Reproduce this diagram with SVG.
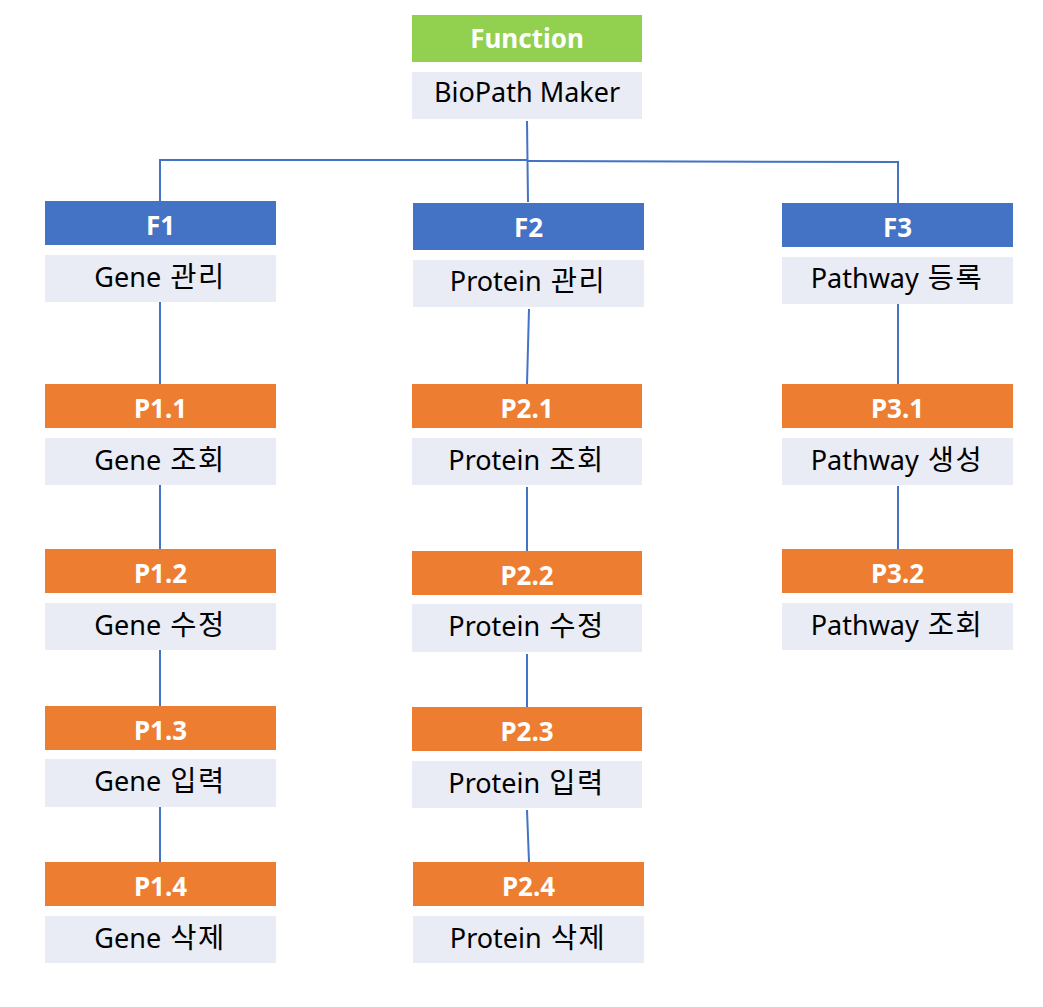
<svg xmlns="http://www.w3.org/2000/svg" width="1043" height="1007" viewBox="0 0 1043 1007">
<style>
.hd{fill:#4472C4}
.pr{fill:#ED7D31}
.fn{fill:#92D050}
.lb{fill:#E9EBF5}
.ht{font-family:"Noto Sans","Noto Sans CJK KR",sans-serif;font-weight:bold;font-size:26px;fill:#ffffff;text-anchor:middle}
.lt{font-family:"Noto Sans","Noto Sans CJK KR",sans-serif;font-size:27px;fill:#000000;text-anchor:middle}
.k{font-size:28.5px;letter-spacing:1.5px}
#connectors path{fill:none;stroke:#4472C4;stroke-width:2}
</style>
<rect width="1043" height="1007" fill="#ffffff"/>
<g id="connectors">
<path d="M527,121 L528,202"/>
<path d="M160,201 L160,160 L527,160"/>
<path d="M527,161 L898,162 L898,203"/>
<path d="M160,302 L160,384"/>
<path d="M160,485 L160,549"/>
<path d="M160,650 L160,706"/>
<path d="M160,807 L160,862"/>
<path d="M529,309 L527,384"/>
<path d="M527,487 L527,551"/>
<path d="M527,654 L527,707"/>
<path d="M527,810 L529,862"/>
<path d="M898,304 L898,384"/>
<path d="M898,486 L898,549"/>
</g>
<g id="root">
<rect class="fn" x="412" y="15" width="230" height="47"/>
<text class="ht" x="527" y="48">Function</text>
<rect class="lb" x="412" y="72" width="230" height="47"/>
<text class="lt" x="527" y="102">BioPath Maker</text>
</g>
<g id="F1">
<rect class="hd" x="45" y="201" width="231" height="44"/>
<text class="ht" x="160.5" y="235">F1</text>
<rect class="lb" x="45" y="255" width="231" height="47"/>
<text class="lt" x="160" y="287">Gene <tspan class="k" dx="2">관리</tspan></text>
</g>
<g id="F2">
<rect class="hd" x="413" y="203" width="231" height="47"/>
<text class="ht" x="528.5" y="237">F2</text>
<rect class="lb" x="413" y="260" width="231" height="47"/>
<text class="lt" x="528" y="291">Protein <tspan class="k" dx="2">관리</tspan></text>
</g>
<g id="F3">
<rect class="hd" x="782" y="203" width="231" height="44"/>
<text class="ht" x="897.5" y="237">F3</text>
<rect class="lb" x="782" y="257" width="231" height="47"/>
<text class="lt" x="897" y="288">Pathway <tspan class="k" dx="2">등록</tspan></text>
</g>
<g id="P1.1">
<rect class="pr" x="45" y="384" width="231" height="44"/>
<text class="ht" x="160.5" y="418">P1.1</text>
<rect class="lb" x="45" y="438" width="231" height="47"/>
<text class="lt" x="160" y="470">Gene <tspan class="k" dx="2">조회</tspan></text>
</g>
<g id="P1.2">
<rect class="pr" x="45" y="549" width="231" height="44"/>
<text class="ht" x="160.5" y="583">P1.2</text>
<rect class="lb" x="45" y="603" width="231" height="47"/>
<text class="lt" x="160" y="635">Gene <tspan class="k" dx="2">수정</tspan></text>
</g>
<g id="P1.3">
<rect class="pr" x="45" y="706" width="231" height="44"/>
<text class="ht" x="160.5" y="740">P1.3</text>
<rect class="lb" x="45" y="759" width="231" height="48"/>
<text class="lt" x="160" y="791">Gene <tspan class="k" dx="2">입력</tspan></text>
</g>
<g id="P1.4">
<rect class="pr" x="45" y="862" width="231" height="44"/>
<text class="ht" x="160.5" y="896">P1.4</text>
<rect class="lb" x="45" y="916" width="231" height="47"/>
<text class="lt" x="160" y="948">Gene <tspan class="k" dx="2">삭제</tspan></text>
</g>
<g id="P2.1">
<rect class="pr" x="412" y="384" width="230" height="44"/>
<text class="ht" x="527" y="418">P2.1</text>
<rect class="lb" x="412" y="438" width="230" height="47"/>
<text class="lt" x="526.5" y="470">Protein <tspan class="k" dx="2">조회</tspan></text>
</g>
<g id="P2.2">
<rect class="pr" x="412" y="551" width="230" height="44"/>
<text class="ht" x="527" y="585">P2.2</text>
<rect class="lb" x="412" y="604" width="230" height="48"/>
<text class="lt" x="526.5" y="636">Protein <tspan class="k" dx="2">수정</tspan></text>
</g>
<g id="P2.3">
<rect class="pr" x="412" y="707" width="230" height="44"/>
<text class="ht" x="527" y="741">P2.3</text>
<rect class="lb" x="412" y="761" width="230" height="47"/>
<text class="lt" x="526.5" y="793">Protein <tspan class="k" dx="2">입력</tspan></text>
</g>
<g id="P2.4">
<rect class="pr" x="413" y="862" width="231" height="44"/>
<text class="ht" x="528.5" y="896">P2.4</text>
<rect class="lb" x="413" y="916" width="231" height="47"/>
<text class="lt" x="528" y="948">Protein <tspan class="k" dx="2">삭제</tspan></text>
</g>
<g id="P3.1">
<rect class="pr" x="782" y="384" width="231" height="44"/>
<text class="ht" x="897.5" y="418">P3.1</text>
<rect class="lb" x="782" y="438" width="231" height="47"/>
<text class="lt" x="897" y="470">Pathway <tspan class="k" dx="2">생성</tspan></text>
</g>
<g id="P3.2">
<rect class="pr" x="782" y="549" width="231" height="44"/>
<text class="ht" x="897.5" y="583">P3.2</text>
<rect class="lb" x="782" y="603" width="231" height="47"/>
<text class="lt" x="897" y="635">Pathway <tspan class="k" dx="2">조회</tspan></text>
</g>
</svg>
